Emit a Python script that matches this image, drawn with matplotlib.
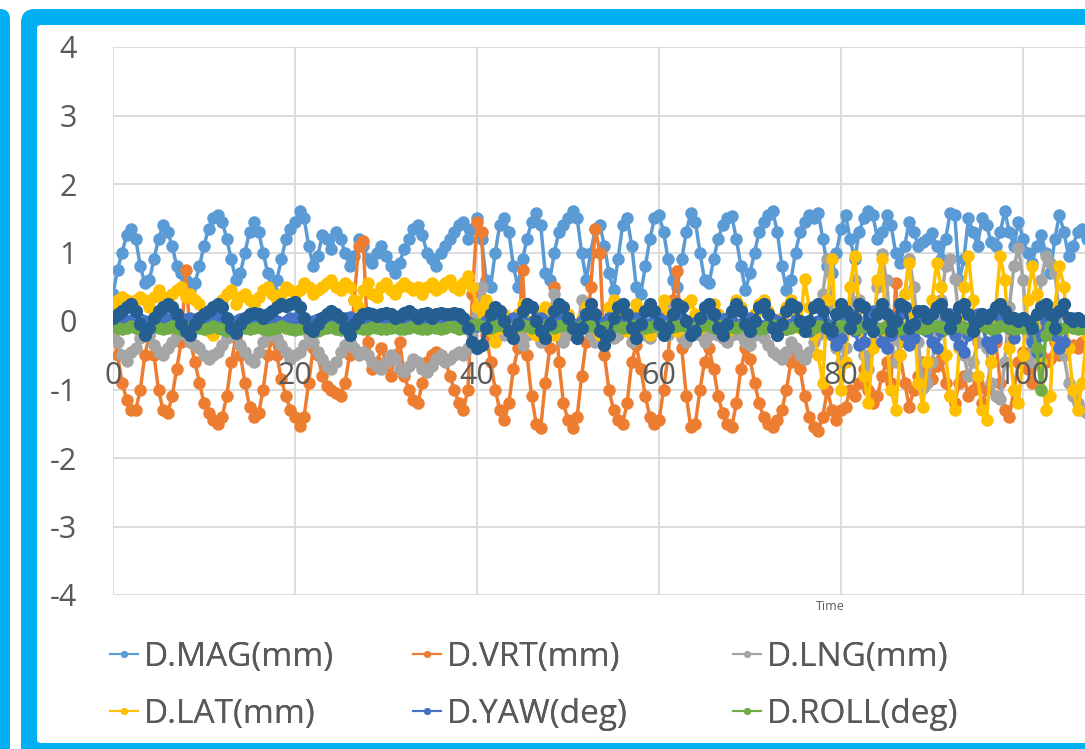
import numpy as np
import matplotlib
matplotlib.use('Agg')
import matplotlib.pyplot as plt
from matplotlib.lines import Line2D
from matplotlib.patches import FancyBboxPatch
from matplotlib.transforms import Affine2D

plt.rcParams['font.family'] = ['Open Sans', 'DejaVu Sans']
plt.rcParams['axes.unicode_minus'] = False   # Excel uses a plain hyphen

dt = 0.5
mag = [
    0.40, 0.75, 1.00, 1.25, 1.35, 1.20, 0.80, 0.55, 0.60, 0.90, 1.20, 1.40, 1.30, 1.10, 0.80, 0.70, 0.60, 0.45, 0.55, 0.80,
    1.10, 1.35, 1.50, 1.55, 1.45, 1.20, 0.90, 0.60, 0.70, 1.00, 1.30, 1.45, 1.30, 1.00, 0.70, 0.45, 0.60, 0.90, 1.20, 1.35,
    1.45, 1.60, 1.50, 1.10, 0.80, 0.95, 1.25, 1.20, 1.05, 1.30, 1.20, 1.00, 0.80, 0.95, 1.20, 1.10, 0.90, 0.85, 1.00, 1.10,
    0.95, 0.80, 0.70, 0.85, 1.05, 1.20, 1.35, 1.40, 1.25, 1.00, 0.90, 0.80, 1.00, 1.10, 1.20, 1.30, 1.40, 1.45, 1.20, 1.35,
    1.50, 1.20, 0.60, 0.50, 1.00, 1.40, 1.50, 1.30, 0.80, 0.50, 0.90, 1.20, 1.45, 1.58, 1.40, 0.70, 0.60, 1.00, 1.30, 1.40,
    1.50, 1.60, 1.50, 1.00, 0.60, 1.00, 1.35, 1.40, 1.10, 0.70, 0.45, 0.90, 1.40, 1.50, 1.10, 0.50, 0.40, 0.80, 1.20, 1.50,
    1.55, 1.30, 0.90, 0.60, 0.50, 0.90, 1.30, 1.58, 1.45, 1.00, 0.60, 0.55, 0.90, 1.20, 1.40, 1.50, 1.53, 1.20, 0.80, 0.45,
    0.70, 1.00, 1.30, 1.45, 1.55, 1.60, 1.30, 0.80, 0.45, 0.60, 1.00, 1.30, 1.45, 1.55, 1.50, 1.58, 1.20, 0.80, 0.70, 1.00,
    1.35, 1.55, 1.20, 0.90, 1.30, 1.50, 1.60, 1.55, 1.20, 1.30, 1.55, 1.40, 1.00, 0.85, 1.10, 1.45, 1.30, 1.10, 1.15, 1.20,
    1.28, 1.10, 0.90, 1.20, 1.58, 1.55, 0.60, 0.90, 1.50, 1.30, 1.10, 1.50, 1.40, 1.15, 1.10, 1.30, 1.60, 1.30, 1.10, 1.45,
    1.20, 1.00, 0.85, 1.10, 1.25, 1.00, 0.70, 1.20, 1.55, 1.30, 0.95, 1.10, 1.30, 1.35, 1.20, 1.10, 1.30, 1.25, 1.10, 1.20,
]
vrt = [
    -0.20, -0.50, -0.90, -1.15, -1.30, -1.30, -1.00, -0.50, -0.20, -0.50, -1.00, -1.30, -1.35, -1.10, -0.70, -0.30, 0.75, -0.30, -0.60, -0.90,
    -1.20, -1.35, -1.45, -1.50, -1.40, -1.10, -0.60, -0.25, -0.50, -0.90, -1.25, -1.40, -1.35, -1.00, -0.50, -0.25, -0.50, -0.85, -1.10, -1.30,
    -1.40, -1.53, -1.40, -0.90, -0.40, -0.50, -0.80, -0.95, -1.00, -1.05, -1.10, -0.90, -0.50, 0.30, 1.10, 1.17, -0.30, -0.70, -0.60, -0.40,
    -0.60, -0.80, -0.50, -0.30, -0.80, -1.00, -1.15, -1.20, -0.90, -0.60, -0.50, -0.45, -0.50, -0.55, -0.80, -1.00, -1.20, -1.30, -1.00, 0.40,
    1.45, 1.30, -0.20, -0.60, -1.00, -1.30, -1.45, -1.20, -0.70, -0.40, 0.75, -0.50, -1.10, -1.50, -1.56, -0.90, -0.40, 0.50, -0.60, -1.20,
    -1.45, -1.56, -1.40, -0.80, -0.30, 0.50, 1.35, 1.00, -0.50, -1.00, -1.30, -1.45, -1.50, -1.20, -0.60, -0.35, -0.70, -1.10, -1.40, -1.50,
    -1.45, -1.00, -0.50, 0.30, 0.73, -0.40, -1.10, -1.55, -1.50, -1.00, -0.60, -0.40, -0.70, -1.10, -1.35, -1.50, -1.55, -1.20, -0.70, -0.40,
    -0.55, -0.90, -1.20, -1.40, -1.50, -1.55, -1.45, -1.30, -1.00, -0.60, -0.45, -0.70, -1.10, -1.40, -1.55, -1.60, -1.40, -1.00, -1.30, -1.45,
    -1.30, -1.25, -1.00, -1.10, -0.90, -0.70, -1.00, -1.20, -1.10, -0.80, -0.60, -0.90, 0.55, -0.50, -0.90, -1.25, -1.00, -0.80, -0.60, -0.70,
    -0.85, -0.65, -0.55, -0.90, -1.10, -1.20, -0.90, -0.80, -1.10, -1.00, -0.90, -1.20, -1.00, -0.60, -0.30, -0.90, -1.30, -1.40, -1.00, -0.60,
    -0.45, -0.70, -0.90, -0.60, -0.50, -0.60, -0.55, -0.30, -0.50, -0.45, -0.40, -0.35, -0.40, -0.30, -0.40, -0.45, -0.35, -0.40, -0.30, -0.35,
]
lng = [
    -0.15, -0.30, -0.50, -0.58, -0.45, -0.40, -0.25, -0.15, -0.20, -0.35, -0.45, -0.50, -0.40, -0.30, -0.20, -0.15, -0.20, -0.30, -0.35, -0.40,
    -0.50, -0.55, -0.50, -0.45, -0.35, -0.25, -0.15, -0.20, -0.35, -0.45, -0.55, -0.60, -0.45, -0.30, -0.20, -0.15, -0.25, -0.35, -0.45, -0.55,
    -0.50, -0.45, -0.35, -0.20, -0.30, -0.45, -0.55, -0.65, -0.70, -0.60, -0.45, -0.35, -0.30, -0.40, -0.50, -0.45, -0.50, -0.60, -0.65, -0.70,
    -0.60, -0.50, -0.55, -0.70, -0.75, -0.65, -0.55, -0.60, -0.70, -0.75, -0.65, -0.55, -0.50, -0.60, -0.55, -0.50, -0.45, -0.50, -0.40, -0.20,
    0.10, 0.50, 0.20, -0.10, -0.25, -0.15, -0.20, -0.10, 0.00, -0.20, -0.35, -0.20, -0.10, -0.15, -0.30, -0.20, 0.10, 0.40, -0.10, -0.30,
    -0.20, -0.10, -0.20, 0.30, 0.10, -0.20, -0.30, -0.15, -0.10, -0.20, -0.25, -0.20, -0.10, -0.15, -0.30, -0.20, -0.10, -0.20, -0.25, -0.15,
    -0.10, -0.15, -0.20, 0.20, -0.10, -0.25, -0.30, -0.20, -0.15, -0.20, -0.30, -0.20, -0.15, -0.20, -0.25, -0.30, -0.20, -0.15, -0.20, -0.30,
    -0.35, -0.20, -0.15, -0.25, -0.35, -0.45, -0.50, -0.55, -0.45, -0.30, -0.40, -0.50, -0.55, -0.45, -0.30, -0.20, 0.40, 0.90, 0.20, -0.40,
    -0.60, -0.40, 0.00, 0.60, 0.30, -0.50, -0.70, -0.30, 0.50, 0.98, 0.60, -0.20, -0.60, -0.30, 0.40, 0.90, 0.50, -0.30, -0.98, -0.90,
    -0.60, -0.20, 0.30, 0.80, 0.90, 0.62, 0.00, -0.50, -0.80, -0.60, -0.30, 0.10, -0.40, -0.90, -1.10, -1.14, -0.60, 0.20, 0.80, 1.07,
    0.60, -0.20, -0.60, -0.10, 0.60, 0.95, 0.85, 0.70, 0.10, -0.50, -0.90, -1.10, -1.20, -1.30, -1.34, -1.20, -1.00, -0.80, -0.90, -1.00,
]
lat = [
    0.20, 0.30, 0.35, 0.30, 0.25, 0.30, 0.35, 0.30, 0.20, 0.35, 0.45, 0.35, 0.30, 0.40, 0.45, 0.50, 0.35, 0.40, 0.30, 0.25,
    0.05, -0.15, -0.20, 0.05, 0.30, 0.40, 0.45, 0.25, 0.35, 0.40, 0.30, 0.25, 0.35, 0.45, 0.50, 0.40, 0.30, 0.40, 0.50, 0.45,
    0.40, 0.45, 0.55, 0.50, 0.40, 0.45, 0.50, 0.55, 0.60, 0.50, 0.45, 0.55, 0.50, 0.30, 0.20, 0.45, 0.55, 0.40, 0.35, 0.50,
    0.55, 0.45, 0.40, 0.50, 0.55, 0.50, 0.45, 0.50, 0.40, 0.50, 0.55, 0.45, 0.50, 0.55, 0.60, 0.50, 0.45, 0.55, 0.65, 0.50,
    0.20, 0.00, 0.30, -0.15, -0.30, -0.10, 0.10, -0.05, -0.20, 0.10, 0.25, 0.00, -0.15, -0.20, 0.10, 0.20, -0.10, -0.20, 0.00, 0.15,
    0.10, -0.10, -0.15, 0.05, 0.20, 0.10, -0.10, -0.20, 0.00, 0.20, 0.30, 0.10, -0.05, -0.15, 0.10, 0.25, 0.15, -0.10, -0.20, 0.00,
    0.15, 0.30, 0.10, -0.10, -0.15, 0.05, 0.25, 0.30, 0.10, -0.10, -0.05, 0.15, 0.25, 0.10, -0.10, -0.15, 0.10, 0.30, 0.20, 0.00,
    -0.10, 0.10, 0.25, 0.30, 0.15, -0.05, -0.15, 0.05, 0.20, 0.30, 0.10, -0.10, 0.61, 0.20, -0.20, -0.50, -0.90, 0.30, 0.90, -0.30,
    -1.00, -0.60, 0.50, 0.95, 0.20, -0.80, -1.20, -0.40, 0.60, 0.90, -0.20, -1.00, -1.30, -0.50, 0.40, 0.85, 0.10, -0.90, -1.25, -0.60,
    0.30, 0.85, 0.50, -0.50, -1.10, -1.30, -0.40, 0.50, 0.95, 0.30, -0.80, -1.30, -1.45, -0.60, 0.20, 0.95, 0.60, -0.40, -1.00, -1.20,
    -0.50, 0.30, 0.80, 0.40, -0.60, -1.30, -1.10, 0.20, 0.80, 0.50, -0.40, -1.00, -1.30, -0.90, -0.20, 0.30, 0.10, -0.40, -0.80, -0.50,
]
yaw = [
    0.05, 0.03, 0.00, -0.02, 0.02, 0.05, 0.03, 0.00, -0.03, 0.00, 0.04, 0.06, 0.03, 0.00, -0.04, -0.02, 0.03, 0.05, 0.02, 0.00,
    -0.03, 0.00, 0.04, 0.05, 0.02, -0.02, -0.04, 0.00, 0.03, 0.05, 0.03, 0.00, -0.02, 0.02, 0.05, 0.04, 0.00, -0.03, 0.00, 0.04,
    0.05, 0.03, -0.02, -0.04, 0.00, 0.03, 0.05, 0.02, -0.02, -0.05, 0.00, 0.04, 0.06, 0.03, 0.00, 0.02, 0.05, 0.03, 0.00, 0.02,
    0.05, 0.03, 0.00, 0.02, 0.05, 0.04, 0.00, 0.02, 0.05, 0.03, 0.00, 0.03, 0.05, 0.02, 0.00, 0.03, 0.05, 0.02, -0.02, -0.05,
    -0.08, -0.05, 0.00, 0.05, 0.03, -0.03, -0.06, 0.00, 0.05, 0.03, -0.02, -0.06, -0.02, 0.04, 0.05, 0.00, -0.05, -0.03, 0.03, 0.05,
    0.02, -0.04, -0.06, 0.00, 0.05, 0.03, -0.03, -0.07, -0.02, 0.04, 0.05, 0.00, -0.05, -0.03, 0.03, 0.05, 0.01, -0.05, -0.04, 0.02,
    0.05, 0.00, -0.05, -0.04, 0.03, 0.05, 0.00, -0.06, -0.03, 0.03, 0.05, 0.00, -0.05, -0.03, 0.03, 0.05, 0.00, -0.08, -0.05, 0.02,
    0.05, 0.00, -0.06, -0.10, -0.05, 0.03, 0.00, -0.08, -0.12, -0.05, 0.02, 0.00, -0.10, -0.15, -0.08, 0.00, 0.05, -0.05, -0.20, -0.35,
    -0.25, 0.00, 0.10, -0.15, -0.35, -0.30, 0.05, 0.15, -0.10, -0.30, -0.40, -0.20, 0.05, 0.10, -0.20, -0.35, -0.25, 0.00, 0.10, -0.15,
    -0.30, -0.40, -0.15, 0.05, 0.10, -0.20, -0.35, -0.45, -0.20, 0.05, 0.10, -0.05, -0.30, -0.40, -0.25, 0.05, 0.10, -0.10, -0.25, -0.05,
    0.05, -0.10, -0.30, -0.45, -0.20, 0.00, 0.10, -0.20, -0.40, -0.30, -0.05, 0.05, -0.05, -0.10, -0.05, 0.00, -0.05, -0.10, -0.05, 0.00,
]
roll = [
    -0.08, -0.10, -0.12, -0.10, -0.08, -0.10, -0.12, -0.13, -0.10, -0.08, -0.10, -0.12, -0.10, -0.08, -0.10, -0.13, -0.12, -0.10, -0.08, -0.10,
    -0.12, -0.10, -0.08, -0.10, -0.12, -0.14, -0.12, -0.10, -0.08, -0.10, -0.12, -0.10, -0.09, -0.11, -0.13, -0.12, -0.10, -0.08, -0.10, -0.12,
    -0.13, -0.11, -0.09, -0.10, -0.12, -0.14, -0.12, -0.10, -0.09, -0.11, -0.13, -0.12, -0.10, -0.08, -0.10, -0.12, -0.11, -0.09, -0.10, -0.12,
    -0.12, -0.10, -0.09, -0.11, -0.12, -0.10, -0.08, -0.10, -0.12, -0.11, -0.09, -0.10, -0.12, -0.10, -0.08, -0.09, -0.11, -0.10, -0.08, -0.06,
    -0.05, -0.07, -0.09, -0.10, -0.08, -0.06, -0.08, -0.10, -0.09, -0.07, -0.06, -0.08, -0.10, -0.09, -0.07, -0.06, -0.08, -0.10, -0.08, -0.06,
    -0.07, -0.09, -0.10, -0.08, -0.06, -0.07, -0.09, -0.11, -0.09, -0.07, -0.06, -0.08, -0.10, -0.09, -0.07, -0.06, -0.08, -0.10, -0.09, -0.07,
    -0.06, -0.08, -0.10, -0.09, -0.07, -0.06, -0.08, -0.10, -0.09, -0.07, -0.06, -0.08, -0.10, -0.08, -0.06, -0.07, -0.09, -0.10, -0.08, -0.06,
    -0.07, -0.09, -0.11, -0.10, -0.08, -0.06, -0.08, -0.10, -0.12, -0.10, -0.08, -0.07, -0.09, -0.11, -0.10, -0.08, -0.07, -0.09, -0.11, -0.10,
    -0.08, -0.07, -0.09, -0.11, -0.10, -0.08, -0.07, -0.09, -0.11, -0.10, -0.08, -0.07, -0.09, -0.11, -0.10, -0.08, -0.07, -0.09, -0.11, -0.10,
    -0.08, -0.07, -0.09, -0.11, -0.10, -0.08, -0.07, -0.09, -0.11, -0.10, -0.08, -0.07, -0.09, -0.11, -0.10, -0.08, -0.07, -0.09, -0.11, -0.10,
    -0.10, -0.08, -0.05, -0.40, -1.00, -0.20, -0.08, -0.10, -0.12, -0.10, -0.08, -0.10, -0.12, -0.10, -0.08, -0.10, -0.12, -0.10, -0.08, -0.10,
]
# dark navy trace (7th series, its legend entry is off-screen)
pitch = [
    0.05, 0.10, 0.15, 0.20, 0.25, 0.15, -0.05, -0.20, -0.10, 0.05, 0.15, 0.20, 0.25, 0.20, 0.10, -0.05, -0.15, -0.20, -0.05, 0.05,
    0.10, 0.15, 0.20, 0.25, 0.20, 0.05, -0.10, -0.18, -0.05, 0.05, 0.10, 0.12, 0.10, 0.05, 0.10, 0.15, 0.20, 0.25, 0.22, 0.25,
    0.28, 0.20, 0.05, -0.10, -0.15, -0.05, 0.05, 0.10, 0.15, 0.10, 0.05, -0.10, -0.20, -0.05, 0.05, 0.10, 0.12, 0.10, 0.08, 0.10,
    0.12, 0.10, 0.05, 0.08, 0.12, 0.15, 0.10, 0.05, 0.10, 0.12, 0.05, 0.10, 0.12, 0.10, 0.10, 0.12, 0.10, 0.05, -0.10, -0.30,
    -0.40, -0.35, -0.10, 0.10, 0.20, 0.15, 0.00, -0.15, -0.25, -0.05, 0.15, 0.25, 0.20, 0.00, -0.15, -0.25, -0.05, 0.15, 0.25, 0.20,
    0.05, -0.10, -0.25, -0.10, 0.10, 0.25, 0.10, -0.15, -0.35, -0.20, 0.05, 0.20, 0.25, 0.10, -0.10, -0.25, -0.05, 0.15, 0.25, 0.15,
    -0.05, -0.20, -0.10, 0.10, 0.25, 0.20, 0.00, -0.20, -0.15, 0.05, 0.20, 0.25, 0.10, -0.10, -0.20, -0.05, 0.15, 0.25, 0.15, -0.05,
    -0.15, 0.00, 0.20, 0.25, 0.10, -0.10, -0.20, -0.05, 0.15, 0.25, 0.20, 0.00, -0.15, 0.00, 0.20, 0.25, 0.15, -0.10, -0.15, 0.10,
    0.25, 0.15, -0.10, 0.05, 0.25, 0.20, -0.05, -0.15, 0.10, 0.25, 0.10, -0.15, 0.00, 0.25, 0.20, -0.10, -0.05, 0.15, 0.15, 0.05,
    0.10, 0.20, 0.25, 0.10, -0.10, 0.05, 0.20, 0.25, 0.10, -0.15, 0.00, 0.10, 0.05, 0.10, 0.20, 0.25, 0.15, 0.05, 0.05, 0.00,
    0.05, 0.00, -0.10, 0.10, 0.20, 0.25, 0.10, -0.10, 0.15, 0.25, 0.05, 0.00, 0.05, 0.00, 0.00, 0.05, 0.00, -0.05, 0.00, 0.05,
]

names = ['D.MAG(mm)', 'D.VRT(mm)', 'D.LNG(mm)', 'D.LAT(mm)', 'D.YAW(deg)', 'D.ROLL(deg)']
colors = ['#5B9BD5', '#ED7D31', '#A5A5A5', '#FFC000', '#4472C4', '#70AD47']
series = [mag, vrt, lng, lat, yaw, roll]
pitch_color = '#255E91'

y_ticks = [-4, -3, -2, -1, 0, 1, 2, 3, 4]
x_ticks = [0, 20, 40, 60, 80, 100, 120, 140, 160]
x_labels = [0, 20, 40, 60, 80, 100]          # the rest is cropped off the screenshot
txt = '#595959'
frame_blue = '#00B0F0'

# —— figure in pixel units (screenshot is 1085x749) ——
W, H = 1085, 749
fig = plt.figure(figsize=(W / 100, H / 100), dpi=100, facecolor='white')
px = Affine2D().scale(1 / W, 1 / H) + fig.transFigure


def panel(x0, y0, x1, y1, r, color, z):
    # y0/y1 counted from top like the screenshot
    p = FancyBboxPatch((x0, H - y1), x1 - x0, y1 - y0,
                       boxstyle=f"round,pad=0,rounding_size={r}",
                       transform=px, facecolor=color, edgecolor='none', zorder=z)
    fig.add_artist(p)


panel(-40, 9, 10, 800, 10, frame_blue, -3)     # neighbour panel border
panel(21, 9, 1160, 800, 14, frame_blue, -3)    # this panel border
panel(37, 25, 1140, 743, 4, 'white', -2)

# plot area: x=0 at px 113, 9.1 px per unit, y from 47 (4) to 595 (-4)
ax = fig.add_axes([113 / W, 1 - 595 / H, 160 * 9.1 / W, 548 / H])
ax.set_facecolor('none')
ax.set_xlim(0, 160)
ax.set_ylim(-4, 4)
ax.set_xticks(x_ticks)
ax.set_yticks(y_ticks)
ax.grid(True, color='#D9D9D9', lw=1.3, zorder=0)
for s in ax.spines.values():
    s.set_visible(False)
ax.tick_params(axis='x', length=0, labelbottom=False)
ax.tick_params(axis='y', length=0, labelsize=22, labelcolor=txt, pad=26)

for vals, name, c in zip(series, names, colors):
    t = np.arange(len(vals)) * dt
    ax.plot(t, vals, color=c, lw=2.5, marker='o', markersize=9,
            markeredgewidth=0, label=name, zorder=2)
t = np.arange(len(pitch)) * dt
ax.plot(t, pitch, color=pitch_color, lw=3.0, marker='o', markersize=9.5,
        markeredgewidth=0, zorder=2)

# x labels sit next to the axis at y=0 (Excel style)
for v in x_labels:
    ax.text(v, -0.92, str(v), ha='center', va='baseline', fontsize=22,
            color=txt, zorder=10)

fig.text(830 / W, 1 - 607 / H, 'Time', ha='center', va='center',
         fontsize=9, color=txt)

# legend: three columns, each placed where the screenshot has it
handles = [Line2D([], [], color=c, lw=1.5, marker='o', markersize=4) for c in colors]
col_x = [110, 413, 733]
for k, x0 in enumerate(col_x):
    idx = [k, k + 3]
    leg = fig.legend([handles[i] for i in idx], [names[i] for i in idx],
                     loc='upper left', bbox_to_anchor=(x0 / W, 1 - 641 / H),
                     ncol=1, frameon=False, fontsize=24, labelcolor=txt,
                     handlelength=0.85, handletextpad=0.15, labelspacing=0.72,
                     borderpad=0, borderaxespad=0)
    fig.add_artist(leg)

fig.savefig('out.png', dpi=100, facecolor='white')
